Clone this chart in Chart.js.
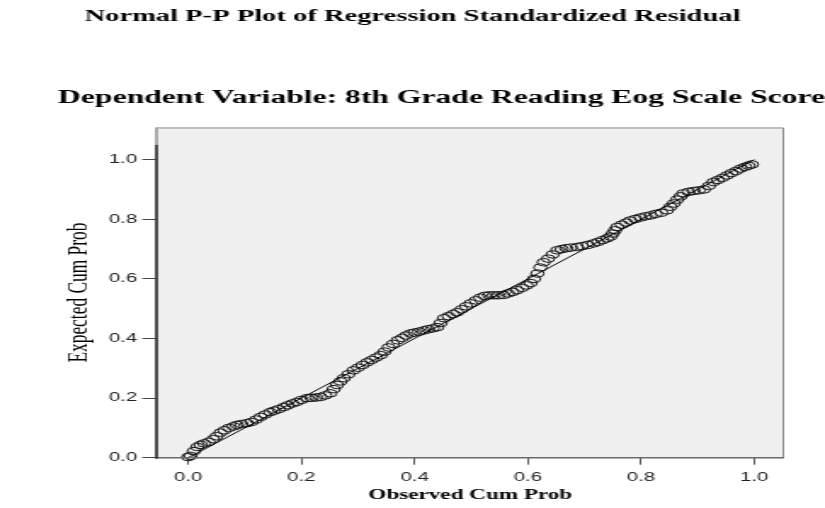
<!DOCTYPE html>
<html><head><meta charset="utf-8">
<script src="https://cdn.jsdelivr.net/npm/chart.js@4.4.0/dist/chart.umd.min.js"></script>
<style>
html,body{margin:0;padding:0;background:#fff;overflow:hidden;width:825px;height:508px;}
#wrap{position:absolute;left:0;top:0;width:485px;height:508px;transform:scaleX(1.701);transform-origin:0 0;}
</style></head><body>
<div id="wrap"><canvas id="c"></canvas></div>
<script>
const titleText = "Normal P-P Plot of Regression Standardized Residual";
const subtitleText = "Dependent Variable: 8th Grade Reading Eog Scale Score";
const xTitle = "Observed Cum Prob";
const yTitle = "Expected Cum Prob";
const tickValues = [0, 0.2, 0.4, 0.6, 0.8, 1.0];
const referenceX = [0, 1];
const referenceY = [0, 1];
const observedCumProb = [
0.000,0.004,0.010,0.016,0.022,0.028,0.036,0.044,0.050,0.057,
0.064,0.072,0.080,0.086,0.094,0.104,0.112,0.120,0.128,0.136,
0.145,0.152,0.160,0.169,0.176,0.184,0.192,0.200,0.210,0.218,
0.226,0.234,0.242,0.251,0.257,0.263,0.269,0.275,0.283,0.292,
0.300,0.308,0.316,0.324,0.332,0.340,0.347,0.354,0.362,0.370,
0.378,0.385,0.393,0.400,0.408,0.416,0.424,0.432,0.440,0.446,
0.452,0.460,0.468,0.475,0.483,0.491,0.499,0.508,0.516,0.524,
0.532,0.540,0.548,0.557,0.565,0.573,0.581,0.590,0.598,0.605,
0.611,0.617,0.622,0.628,0.636,0.644,0.652,0.660,0.668,0.676,
0.687,0.696,0.706,0.716,0.724,0.732,0.740,0.746,0.750,0.754,
0.758,0.766,0.774,0.781,0.790,0.799,0.808,0.817,0.826,0.836,
0.846,0.852,0.858,0.864,0.870,0.875,0.884,0.893,0.902,0.911,
0.920,0.928,0.936,0.944,0.952,0.960,0.968,0.976,0.984,0.990,
0.996];
const expectedCumProb = [
0.002,0.006,0.022,0.036,0.043,0.048,0.053,0.062,0.072,0.084,
0.092,0.100,0.105,0.110,0.113,0.116,0.120,0.128,0.137,0.145,
0.153,0.158,0.163,0.170,0.176,0.182,0.187,0.194,0.200,0.201,
0.202,0.204,0.209,0.216,0.230,0.244,0.256,0.267,0.280,0.293,
0.302,0.311,0.320,0.328,0.336,0.344,0.356,0.370,0.382,0.394,
0.402,0.410,0.417,0.420,0.423,0.427,0.431,0.434,0.438,0.452,
0.468,0.475,0.482,0.488,0.498,0.508,0.518,0.528,0.537,0.543,
0.545,0.545,0.545,0.546,0.551,0.556,0.562,0.570,0.578,0.586,
0.600,0.618,0.638,0.656,0.668,0.682,0.696,0.700,0.703,0.705,
0.707,0.710,0.714,0.719,0.724,0.730,0.736,0.742,0.752,0.763,
0.774,0.782,0.789,0.796,0.801,0.806,0.810,0.813,0.818,0.822,
0.830,0.842,0.853,0.866,0.877,0.887,0.892,0.895,0.897,0.900,
0.912,0.925,0.932,0.939,0.947,0.955,0.962,0.970,0.976,0.980,
0.984];

const serif = '"Liberation Serif", "Times New Roman", serif';
const sans = '"Liberation Sans", Arial, sans-serif';

const framePlugin = {
  id: 'frame',
  beforeDraw(chart) {
    const {ctx, chartArea: a} = chart;
    ctx.save();
    ctx.fillStyle = '#f0f0f0';
    ctx.fillRect(a.left, a.top, a.right - a.left, a.bottom - a.top);
    ctx.restore();
  },
  afterDatasetsDraw(chart) {
    const {ctx, chartArea: a} = chart;
    ctx.save();
    ctx.strokeStyle = '#8c8c8c';
    ctx.lineWidth = 1;
    ctx.beginPath();
    ctx.moveTo(a.left, a.top + 0.5);
    ctx.lineTo(a.right - 0.5, a.top + 0.5);
    ctx.lineTo(a.right - 0.5, a.bottom);
    ctx.stroke();
    ctx.strokeStyle = '#6a6a6a';
    ctx.lineWidth = 1.5;
    ctx.beginPath();
    ctx.moveTo(a.left, a.bottom);
    ctx.lineTo(a.right, a.bottom);
    ctx.stroke();
    const yTop = a.top + (a.bottom - a.top) * 0.052;
    ctx.strokeStyle = '#a0a0a0';
    ctx.lineWidth = 1.8;
    ctx.beginPath();
    ctx.moveTo(a.left, a.top);
    ctx.lineTo(a.left, yTop);
    ctx.stroke();
    ctx.strokeStyle = '#3a3a3a';
    ctx.beginPath();
    ctx.moveTo(a.left, yTop);
    ctx.lineTo(a.left, a.bottom + 1);
    ctx.stroke();
    ctx.restore();
  }
};

new Chart(document.getElementById('c'), {
  type: 'scatter',
  data: {
    datasets: [
      {
        label: 'Reference',
        type: 'line',
        data: referenceX.map((x, i) => ({x: x, y: referenceY[i]})),
        borderColor: '#000',
        borderWidth: 1,
        pointRadius: 0,
        fill: false,
        clip: false
      },
      {
        label: 'Residuals',
        data: observedCumProb.map((x, i) => ({x: x, y: expectedCumProb[i]})),
        pointStyle: 'circle',
        pointRadius: 3.8,
        borderColor: '#1a1a1a',
        borderWidth: 1,
        backgroundColor: 'rgba(0,0,0,0)',
        showLine: false,
        clip: false
      }
    ]
  },
  options: {
    responsive: true,
    maintainAspectRatio: false,
    animation: false,
    events: [],
    layout: {padding: 0},
    plugins: {
      legend: {display: false},
      tooltip: {enabled: false},
      title: {
        display: true, text: titleText, color: '#000',
        font: {family: serif, size: 16.8, weight: 'bold'},
        padding: {top: 7, bottom: 60}
      },
      subtitle: {
        display: true, text: subtitleText, color: '#000', align: 'end',
        font: {family: serif, size: 18.6, weight: 'bold'},
        padding: {top: 0, bottom: 18}
      }
    },
    scales: {
      x: {
        type: 'linear', min: -0.056, max: 1.053,
        afterBuildTicks: s => { s.ticks = tickValues.map(v => ({value: v})); },
        afterFit: s => { s.height = 50.3; },
        grid: {drawOnChartArea: false, drawTicks: true, tickLength: 7, color: '#555', lineWidth: 1},
        border: {display: false},
        ticks: {color: '#222', font: {family: sans, size: 12}, padding: 6, maxRotation: 0,
                callback: v => Number(v).toFixed(1)},
        title: {display: true, text: xTitle, color: '#000',
                font: {family: serif, size: 13.6, weight: 'bold'}, padding: {top: 0, bottom: 4}}
      },
      y: {
        type: 'linear', min: 0, max: 1.108,
        afterBuildTicks: s => { s.ticks = tickValues.map(v => ({value: v})); },
        afterFit: s => { s.width = 92; },
        grid: {drawOnChartArea: false, drawTicks: true, tickLength: 8.4, color: '#444', lineWidth: 1},
        border: {display: false},
        ticks: {color: '#222', font: {family: sans, size: 12}, padding: 3,
                callback: v => Number(v).toFixed(1)},
        title: {display: true, text: yTitle, color: '#000',
                font: {family: serif, size: 17.4}, padding: {top: 35.7, bottom: 0}}
      },
      yRight: {
        type: 'linear', position: 'right', display: true, min: 0, max: 1,
        afterFit: s => { s.width = 24; },
        grid: {display: false, drawTicks: false},
        border: {display: false},
        ticks: {display: false}
      }
    }
  },
  plugins: [framePlugin]
});
</script>
</body></html>
